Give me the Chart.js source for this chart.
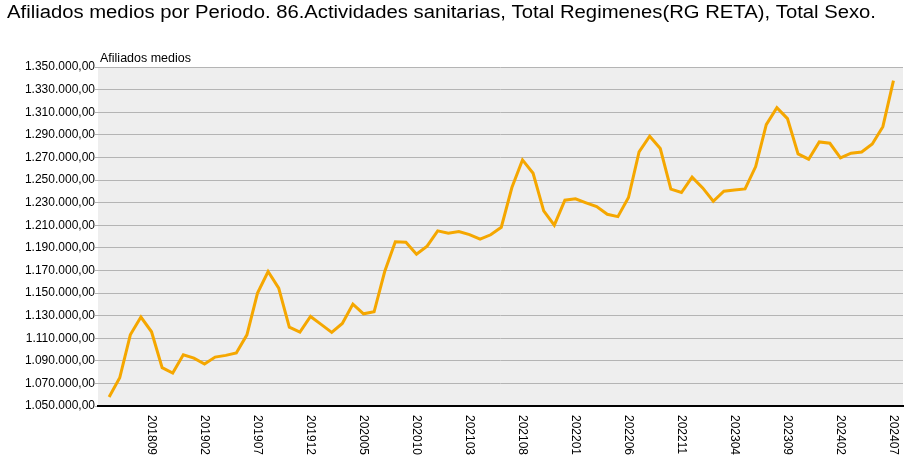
<!DOCTYPE html>
<html>
<head>
<meta charset="utf-8">
<script src="https://cdn.jsdelivr.net/npm/chart.js@4/dist/chart.umd.min.js"></script>
<style>
  html, body { margin: 0; padding: 0; background: #fff; }
  #chart { display: block; }
</style>
</head>
<body>
<canvas id="chart" width="910" height="466"></canvas>
<script>
// chart texts
var chartTitle = 'Afiliados medios por Periodo. 86.Actividades sanitarias, Total Regimenes(RG RETA), Total Sexo.';
var axisTitle = 'Afiliados medios';

// months (categories)
var periods = [
	'201805','201806','201807','201808','201809','201810','201811','201812',
	'201901','201902','201903','201904','201905','201906','201907','201908','201909','201910','201911','201912',
	'202001','202002','202003','202004','202005','202006','202007','202008','202009','202010','202011','202012',
	'202101','202102','202103','202104','202105','202106','202107','202108','202109','202110','202111','202112',
	'202201','202202','202203','202204','202205','202206','202207','202208','202209','202210','202211','202212',
	'202301','202302','202303','202304','202305','202306','202307','202308','202309','202310','202311','202312',
	'202401','202402','202403','202404','202405','202406','202407'
];

// afiliados medios
var afiliados = [
	1058000, 1075000, 1113000, 1128700, 1115700, 1083900, 1079200, 1095400,
	1092400, 1087200, 1093300, 1094800, 1096900, 1113000, 1149900, 1169000, 1154300, 1119800, 1115400, 1129200,
	1122200, 1115100, 1123000, 1140200, 1131600, 1133400, 1169000, 1195300, 1195000, 1184400, 1191500, 1205000,
	1203000, 1204400, 1201700, 1197600, 1201500, 1208200, 1243300, 1267800, 1256000, 1222700, 1210000, 1232100,
	1233300, 1229800, 1226500, 1219700, 1217600, 1234500, 1274800, 1288700, 1277800, 1241900, 1238900, 1252500,
	1243000, 1231200, 1240100, 1241200, 1242100, 1261900, 1299000, 1314000, 1304300, 1273100, 1268400, 1283700,
	1282500, 1269500, 1273700, 1274800, 1281900, 1297200, 1337900
];

// y axis ticks
var yMin = 1050000, yMax = 1350000, yStep = 20000;

function formatNumber(v) {
	var s = Math.round(v).toString();
	return s.replace(/\B(?=(\d{3})+(?!\d))/g, '.') + ',00';
}

var points = [];
for (var i = 0; i < afiliados.length; i++) {
	points.push({ x: i, y: afiliados[i] });
}

var fontName = '"Liberation Sans", Arial, sans-serif';

// draws text stretched to a given width (the original is a bit wider than Liberation Sans)
function wideText(ctx, text, x, y, width) {
	var w = ctx.measureText(text).width;
	ctx.save();
	ctx.translate(x, y);
	ctx.scale(width / w, 1);
	ctx.fillText(text, 0, 0);
	ctx.restore();
}

var decorPlugin = {
	id: 'decor',
	beforeDraw: function (chart) {
		var ctx = chart.ctx, a = chart.chartArea;
		ctx.save();
		ctx.fillStyle = '#eeeeee';
		ctx.fillRect(a.left, a.top, a.right - a.left, a.bottom - a.top);
		ctx.restore();
	},
	afterDraw: function (chart) {
		var ctx = chart.ctx, a = chart.chartArea, xs = chart.scales.x;
		ctx.save();
		ctx.fillStyle = '#000';
		ctx.textBaseline = 'alphabetic';
		ctx.textAlign = 'left';
		ctx.font = '18px ' + fontName;
		wideText(ctx, chartTitle, 7, 17.5, 869);
		ctx.font = '12px ' + fontName;
		wideText(ctx, axisTitle, 100, 62, 91);

		// vertical period labels, every 5 months
		ctx.textBaseline = 'middle';
		for (var i = 4; i < periods.length; i += 5) {
			var px = xs.getPixelForValue(i);
			ctx.save();
			ctx.translate(px, a.bottom + 9);
			ctx.rotate(Math.PI / 2);
			ctx.fillText(periods[i], 0, 0);
			ctx.restore();
		}
		ctx.restore();
	}
};

new Chart(document.getElementById('chart').getContext('2d'), {
	type: 'line',
	data: {
		datasets: [{
			label: axisTitle,
			data: points,
			borderColor: '#f5a700',
			borderWidth: 3,
			pointRadius: 0,
			tension: 0,
			fill: false
		}]
	},
	options: {
		responsive: false,
		animation: false,
		maintainAspectRatio: false,
		layout: { padding: { top: 67, left: 0, right: 7, bottom: 0 } },
		plugins: {
			legend: { display: false },
			tooltip: { enabled: false },
			title: { display: false }
		},
		scales: {
			x: {
				type: 'linear',
				min: -1.05,
				max: 74.9,
				grid: { display: false },
				border: { display: true, color: '#000', width: 2 },
				ticks: { display: false },
				afterFit: function (scale) { scale.height = 60; }
			},
			y: {
				min: yMin,
				max: yMax,
				grid: { color: '#b4b4b4', lineWidth: 1, tickLength: 3 },
				border: { display: false },
				ticks: {
					stepSize: yStep,
					padding: 0,
					color: '#000',
					font: { family: fontName, size: 12 },
					callback: function (v) { return formatNumber(v); }
				},
				afterFit: function (scale) { scale.width = 98; }
			}
		}
	},
	plugins: [decorPlugin]
});
</script>
</body>
</html>
